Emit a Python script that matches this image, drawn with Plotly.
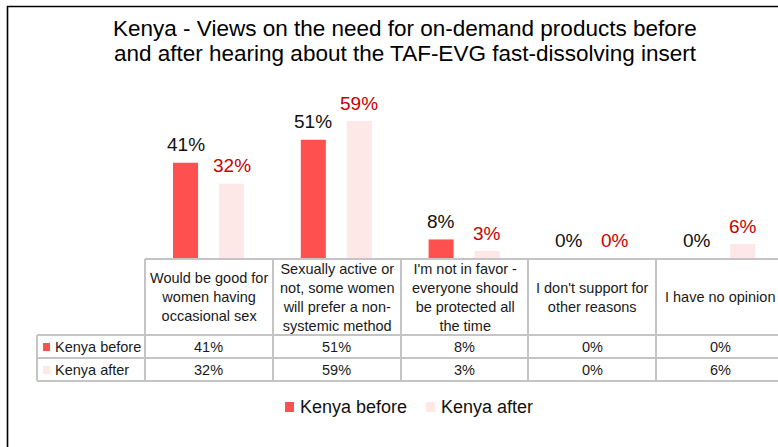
import plotly.graph_objects as go

# ---------------- data ----------------
categories = [
    "Would be good for women having occasional sex",
    "Sexually active or not, some women will prefer a non-systemic method",
    "I'm not in favor - everyone should be protected all the time",
    "I don't support for other reasons",
    "I have no opinion",
]
header_labels = [
    "Would be good for<br>women having<br>occasional sex",
    "Sexually active or<br>not, some women<br>will prefer a non-<br>systemic method",
    "I'm not in favor -<br>everyone should<br>be protected all<br>the time",
    "I don't support for<br>other reasons",
    "I have no opinion",
]
series_names = ["Kenya before", "Kenya after"]
kenya_before = [41, 51, 8, 0, 0]
kenya_after = [32, 59, 3, 0, 6]
series_values = [kenya_before, kenya_after]
title_lines = [
    "Kenya - Views on the need for on-demand products before",
    "and after hearing about the TAF-EVG fast-dissolving insert",
]

# ---------------- style ----------------
W, H = 778, 447
bar_colors = ["#FF5050", "#FDE7E7"]
label_colors = ["#111111", "#C80000"]
grid_col = "#C4C4C4"
FONT = "Liberation Sans"


def px(x):
    return x / W


def py(y):
    return 1 - y / H


idx = list(range(len(categories)))
bar_w = 0.196
offsets = [-0.281, 0.079]

fig = go.Figure()
for s in range(2):
    fig.add_trace(go.Bar(
        x=idx, y=series_values[s], name=series_names[s],
        width=bar_w, offset=offsets[s],
        marker=dict(color=bar_colors[s], line=dict(width=0)),
        hovertext=categories, showlegend=False,
    ))

annotations = []
shapes = []

# data labels above bars
for s in range(2):
    for i, v in enumerate(series_values[s]):
        annotations.append(dict(
            x=i + offsets[s] + bar_w / 2, y=v, xref="x", yref="y",
            text=f"{v}%", showarrow=False, yanchor="middle", yshift=18,
            font=dict(family=FONT, size=19, color=label_colors[s]),
        ))

# title (two lines, placed separately to control spacing)
for k, (line, yc) in enumerate(zip(title_lines, [28, 53])):
    annotations.append(dict(
        x=px(405), y=py(yc), xref="paper", yref="paper", text=line,
        showarrow=False, xanchor="center", yanchor="middle",
        font=dict(family=FONT, size=22.5, color="#000000"),
    ))

# ---------------- data table ----------------
col_edges = [145, 273, 401, 528, 656, 784]
y_head_top, y_head_bot, y_row1, y_row2 = 259, 335, 358, 381
row_centers = [347, 370]
lc = dict(color=grid_col, width=2)

shapes.append(dict(type="line", xref="paper", yref="paper",
                   x0=px(145), x1=px(784), y0=py(y_head_top), y1=py(y_head_top), line=lc))
for yy in (y_head_bot, y_row1, y_row2):
    shapes.append(dict(type="line", xref="paper", yref="paper",
                       x0=px(37), x1=px(784), y0=py(yy), y1=py(yy), line=lc))
for xx in col_edges:
    shapes.append(dict(type="line", xref="paper", yref="paper",
                       x0=px(xx), x1=px(xx), y0=py(y_head_top), y1=py(y_row2), line=lc))
shapes.append(dict(type="line", xref="paper", yref="paper",
                   x0=px(37), x1=px(37), y0=py(y_head_bot), y1=py(y_row2), line=lc))

for i, lab in enumerate(header_labels):
    annotations.append(dict(
        x=i, y=py((y_head_top + y_head_bot) / 2), xref="x", yref="paper",
        text=lab, showarrow=False, xanchor="center", yanchor="middle",
        font=dict(family=FONT, size=14.5, color="#1a1a1a"),
    ))

for s in range(2):
    yc = row_centers[s]
    shapes.append(dict(type="rect", xref="paper", yref="paper",
                       x0=px(43), x1=px(50), y0=py(yc + 4), y1=py(yc - 4),
                       fillcolor=bar_colors[s], line=dict(width=0)))
    annotations.append(dict(
        x=px(53), y=py(yc), xref="paper", yref="paper", text=series_names[s],
        showarrow=False, xanchor="left", yanchor="middle",
        font=dict(family=FONT, size=14.5, color="#1a1a1a"),
    ))
    for i, v in enumerate(series_values[s]):
        annotations.append(dict(
            x=i, y=py(yc), xref="x", yref="paper", text=f"{v}%",
            showarrow=False, xanchor="center", yanchor="middle",
            font=dict(family=FONT, size=14.5, color="#1a1a1a"),
        ))

# ---------------- legend (custom) ----------------
leg_sq = [285, 426]
for s in range(2):
    shapes.append(dict(type="rect", xref="paper", yref="paper",
                       x0=px(leg_sq[s]), x1=px(leg_sq[s] + 9), y0=py(412), y1=py(402),
                       fillcolor=bar_colors[s], line=dict(width=0)))
    annotations.append(dict(
        x=px(leg_sq[s] + 13), y=py(407), xref="paper", yref="paper", text=series_names[s],
        showarrow=False, xanchor="left", yanchor="middle",
        font=dict(family=FONT, size=18, color="#111111"),
    ))

# frame
shapes.append(dict(type="line", xref="paper", yref="paper",
                   x0=px(7), x1=1, y0=py(6.5), y1=py(6.5), line=dict(color="#000", width=1.6)))
shapes.append(dict(type="line", xref="paper", yref="paper",
                   x0=px(7.5), x1=px(7.5), y0=py(6), y1=0, line=dict(color="#000", width=1.6)))

fig.update_layout(
    width=W, height=H, autosize=False,
    margin=dict(l=0, r=0, t=0, b=0),
    paper_bgcolor="white", plot_bgcolor="white",
    barmode="overlay",
    xaxis=dict(domain=[px(145), 1], range=[-0.5, 4.453], type="linear",
               showticklabels=False, showgrid=False, zeroline=False, showline=False, ticks=""),
    yaxis=dict(domain=[py(258), py(90)], range=[0, 72.4],
               showticklabels=False, showgrid=False, zeroline=False, showline=False, ticks=""),
    annotations=annotations, shapes=shapes, showlegend=False,
    font=dict(family=FONT),
)

fig.write_html(
    "out.html",
    config={"displayModeBar": False},
    post_script="document.body.style.margin='0';document.body.style.overflow='hidden';",
)
